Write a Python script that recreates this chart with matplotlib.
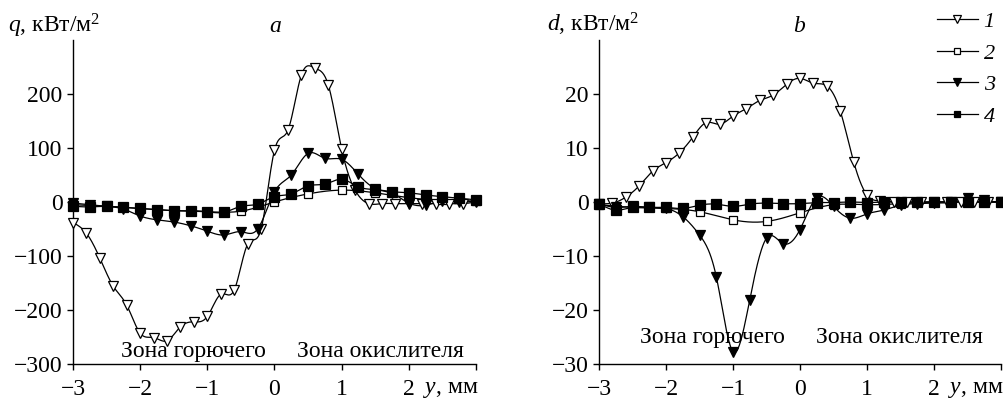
import numpy as np
import matplotlib
matplotlib.use("Agg")
import matplotlib.pyplot as plt
from matplotlib.lines import Line2D

plt.rcParams['font.family'] = ['Liberation Serif', 'DejaVu Serif']
plt.rcParams['mathtext.fontset'] = 'custom'
plt.rcParams['mathtext.rm'] = 'Liberation Serif'
plt.rcParams['mathtext.it'] = 'Liberation Serif:italic'

# ---------------- data ----------------
# panel a : q, kW/m^2
xa1 = [-3.0, -2.8, -2.6, -2.4, -2.2, -2.0, -1.8, -1.6, -1.4, -1.2, -1.0, -0.8, -0.6, -0.4, -0.2,
       0.0, 0.2, 0.4, 0.6, 0.8, 1.0, 1.2, 1.4, 1.6, 1.8, 2.0, 2.2, 2.4, 2.6, 2.8, 3.0]
qa1 = [-38, -58, -104, -156, -191, -243, -251, -257, -231, -222, -212, -171, -163, -78, -50,
       96, 133, 235, 248, 217, 98, 22, -3, -3, -3, -3, -3, -3, -3, -3, 0]
xa2 = [-3.0, -2.5, -2.0, -1.5, -1.0, -0.5, 0.0, 0.5, 1.0, 1.5, 2.0, 2.5, 3.0]
qa2 = [-5, -8, -12, -16, -18, -17, 0, 15, 22, 17, 8, 3, 2]
xa3 = [-3.0, -2.75, -2.5, -2.25, -2.0, -1.75, -1.5, -1.25, -1.0, -0.75, -0.5, -0.25,
       0.0, 0.25, 0.5, 0.75, 1.0, 1.25, 1.5, 1.75, 2.0, 2.25, 2.5, 2.75, 3.0]
qa3 = [-2, -5, -8, -13, -26, -33, -37, -44, -54, -61, -55, -50,
       19, 50, 90, 81, 79, 51, 25, 16, -2, -6, 2, 0, 2]
xa4 = xa3
qa4 = [-8, -9, -8, -10, -12, -14, -16, -16, -18, -19, -8, -4,
       10, 15, 30, 33, 42, 28, 23, 19, 17, 13, 10, 7, 4]

# panel b : d, kW/m^2
xb1 = xa1
db1 = [-0.3, -0.2, 0.9, 3.0, 5.7, 7.3, 9.1, 12.0, 14.7, 14.4, 15.9, 17.3, 18.8, 19.8, 21.8,
       22.9, 22.0, 21.5, 16.9, 7.5, 1.3, 0.2, 0, 0, 0, 0, 0, 0, 0, 0, 0]
xb2 = xa2
db2 = [-0.5, -1.0, -1.2, -1.8, -3.3, -3.6, -2.0, -0.5, -0.5, -0.3, 0, 0, 0]
xb3 = xa3
db3 = [-0.3, -1.0, -0.8, -1.0, -1.2, -2.7, -6.1, -13.8, -27.7, -18.1, -6.7, -7.7,
       -5.1, 0.8, -0.8, -3.0, -2.2, -1.5, -0.6, -0.3, -0.2, 0, 0.8, 0.3, 0]
xb4 = xa3
db4 = [-0.3, -1.5, -1.0, -1.0, -1.0, -1.2, -0.6, -0.4, -0.8, -0.4, -0.2, -0.3,
       -0.3, -0.1, -0.1, 0, -0.1, 0, 0, 0, 0, 0, 0, 0, 0]

series_labels = ['1', '2', '3', '4']
zone_labels = ['Зона горючего', 'Зона окислителя']


def spline(x, y, n=600):
    x = np.asarray(x, float)
    y = np.asarray(y, float)
    m = len(x)
    h = np.diff(x)
    A = np.zeros((m, m))
    r = np.zeros(m)
    A[0, 0] = A[-1, -1] = 1
    for i in range(1, m - 1):
        A[i, i - 1] = h[i - 1]
        A[i, i] = 2 * (h[i - 1] + h[i])
        A[i, i + 1] = h[i]
        r[i] = 3 * ((y[i + 1] - y[i]) / h[i] - (y[i] - y[i - 1]) / h[i - 1])
    c = np.linalg.solve(A, r)
    b = (y[1:] - y[:-1]) / h - h * (2 * c[:-1] + c[1:]) / 3
    d = (c[1:] - c[:-1]) / (3 * h)
    xs = np.linspace(x[0], x[-1], n)
    idx = np.clip(np.searchsorted(x, xs) - 1, 0, m - 2)
    t = xs - x[idx]
    ys = y[idx] + b[idx] * t + c[idx] * t ** 2 + d[idx] * t ** 3
    return xs, ys


styles = [dict(marker='v', mfc='white', ms=7.8),
          dict(marker='s', mfc='white', ms=6.0),
          dict(marker='v', mfc='black', ms=7.8),
          dict(marker='s', mfc='black', ms=6.5)]

fig = plt.figure(figsize=(10.04, 4.03), dpi=100)
axa = fig.add_axes([73 / 1004, 1 - 364 / 403, (476 - 73) / 1004, (364 - 40) / 403])
axb = fig.add_axes([599 / 1004, 1 - 364 / 403, (1001 - 599) / 1004, (364 - 40) / 403])

FS = 17


def draw(ax, data, ylim, yticks, zone_pos):
    for (x, y), st in zip(data, styles):
        xs, ys = spline(x, y)
        ax.plot(xs, ys, color='black', lw=0.9, clip_on=False, zorder=2)
        ax.plot(x, y, ls='none', marker=st['marker'], mfc=st['mfc'], mec='black',
                mew=0.9, ms=st['ms'], clip_on=False, zorder=3)
    ax.set_xlim(-3, 3)
    ax.set_ylim(*ylim)
    ax.spines['top'].set_visible(False)
    ax.spines['right'].set_visible(False)
    for s in ('left', 'bottom'):
        ax.spines[s].set_linewidth(1.0)
    ax.set_xticks([-3, -2, -1, 0, 1, 2, 3])
    ax.set_xticklabels(['\u22123', '\u22122', '\u22121', '0', '1', '2', ''])
    ax.set_yticks(yticks)
    ax.set_yticklabels([('\u2212' + str(-v)) if v < 0 else str(v) for v in yticks])
    ax.tick_params(axis='y', direction='out', length=4.5, width=1.0, labelsize=FS, pad=3)
    ax.tick_params(axis='x', direction='out', length=4.5, width=1.0, labelsize=FS, pad=6.5)
    ax.annotate(r'$y$, мм', xy=(1, 0), xycoords='axes fraction', xytext=(2, -11),
                textcoords='offset points', ha='right', va='top', fontsize=FS)
    ax.text(zone_pos[0][0], zone_pos[0][1], zone_labels[0], ha='center', va='baseline', fontsize=FS)
    ax.text(zone_pos[1][0], zone_pos[1][1], zone_labels[1], ha='center', va='baseline', fontsize=FS)


draw(axa, [(xa1, qa1), (xa2, qa2), (xa3, qa3), (xa4, qa4)], (-300, 300),
     [-300, -200, -100, 0, 100, 200], [(-1.2, -287), (1.57, -287)])
draw(axb, [(xb1, db1), (xb2, db2), (xb3, db3), (xb4, db4)], (-30, 30),
     [-30, -20, -10, 0, 10, 20], [(-1.31, -26.1), (1.48, -26.1)])

yb = 1 - 32 / 403
fig.text(8 / 1004, yb, r'$q$, кВт/м$^2$', ha='left', va='baseline', fontsize=FS)
fig.text(275 / 1004, yb, r'$a$', ha='center', va='baseline', fontsize=FS)
fig.text(547 / 1004, yb, r'$d$, кВт/м$^2$', ha='left', va='baseline', fontsize=FS)
fig.text(800 / 1004, yb, r'$b$', ha='center', va='baseline', fontsize=FS)

handles = [Line2D([], [], color='black', lw=0.9, marker=st['marker'], mfc=st['mfc'], mec='black',
                  mew=0.9, ms=st['ms'] * 0.75) for st in styles]
fig.legend(handles, series_labels, loc='upper right',
           bbox_to_anchor=(1.004, 1.005), frameon=False,
           prop={'style': 'italic', 'size': 16, 'family': 'Liberation Serif'},
           handlelength=1.85, handletextpad=0.25, labelspacing=0.5, borderaxespad=0.2)

fig.savefig('out.png', dpi=100)
